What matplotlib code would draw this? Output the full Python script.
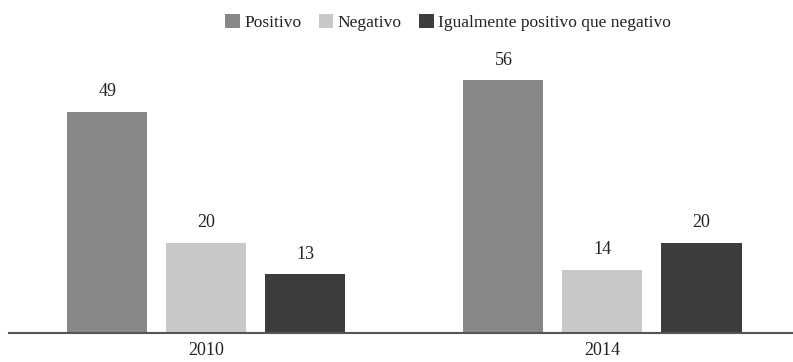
import numpy as np
import matplotlib
matplotlib.use('Agg')
import matplotlib.pyplot as plt

plt.rcParams['font.family'] = ['Liberation Serif', 'DejaVu Serif']

years = ['2010', '2014']
series = ['Positivo', 'Negativo', 'Igualmente positivo que negativo']
positivo = [49, 56]
negativo = [20, 14]
igual = [13, 20]
colors = ['#888888', '#c8c8c8', '#3c3c3c']

fig = plt.figure(figsize=(7.93, 3.62), dpi=100)
ax = fig.add_axes([0.011, 0.080, 0.989, 0.81])

x = np.arange(len(years))
width = 0.202
offsets = [-0.25, 0, 0.25]
for vals, off, col, name in zip([positivo, negativo, igual], offsets, colors, series):
    bars = ax.bar(x + off, vals, width=width, color=col, label=name)
    for b, v in zip(bars, vals):
        ax.text(b.get_x() + b.get_width() / 2, v + 2.6, str(v),
                ha='center', va='bottom', fontsize=13, color='#222222')

ax.set_xlim(-0.499, 1.481)
ax.set_ylim(0, 65)
ax.set_xticks(x)
ax.set_xticklabels(years, fontsize=13, color='#222222')
ax.tick_params(axis='x', length=0, pad=6.5)
ax.set_yticks([])
for s in ['top', 'right', 'left']:
    ax.spines[s].set_visible(False)
ax.spines['bottom'].set_color('#555555')
ax.spines['bottom'].set_linewidth(1.5)

fig.legend(loc='upper center', bbox_to_anchor=(0.565, 1.005), ncol=3, frameon=False,
           fontsize=12.5, handlelength=0.85, handleheight=0.85, handletextpad=0.25,
           columnspacing=1.0, labelcolor='#222222')

plt.savefig('out.png', dpi=100)
